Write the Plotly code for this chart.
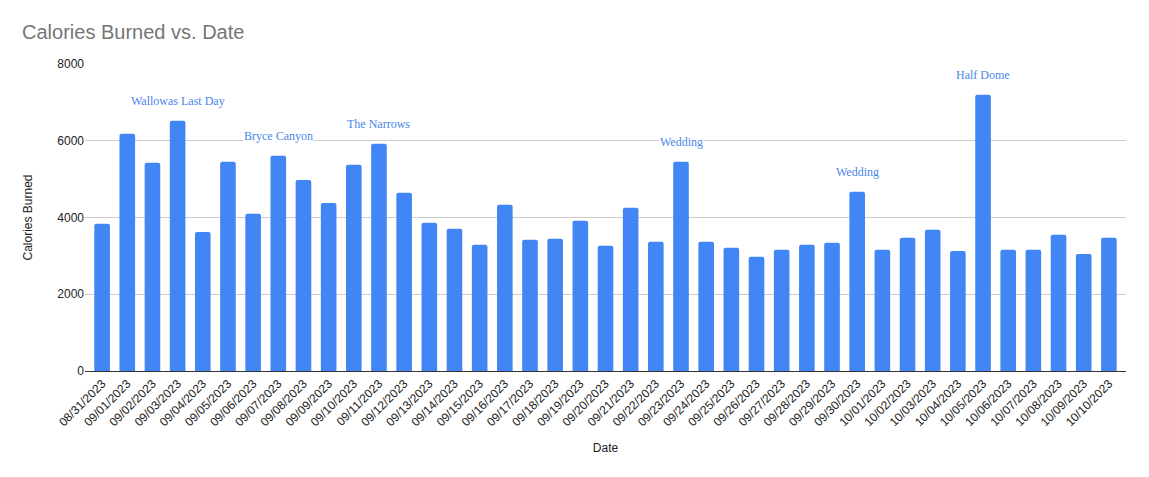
import plotly.graph_objects as go

dates = ["08/31/2023"] + [f"09/{d:02d}/2023" for d in range(1, 31)] + [f"10/{d:02d}/2023" for d in range(1, 11)]
calories = [3835, 6180, 5425, 6520, 3625, 5450, 4095, 5610, 4980, 4380,
            5375, 5920, 4645, 3860, 3705, 3287, 4330, 3417, 3443, 3913,
            3261, 4252, 3365, 5452, 3365, 3209, 2974, 3157, 3287, 3339,
            4670, 3157, 3470, 3678, 3130, 7200, 3157, 3157, 3548, 3052,
            3470]
note_dates = ["09/03/2023", "09/07/2023", "09/11/2023", "09/23/2023", "09/30/2023", "10/05/2023"]
note_texts = ["Wallowas Last Day", "Bryce Canyon", "The Narrows", "Wedding", "Wedding", "Half Dome"]
y_ticks = [0, 2000, 4000, 6000, 8000]

fig = go.Figure(go.Bar(x=dates, y=calories, marker_color="#4285f4", marker_line_width=0))

for d, t in zip(note_dates, note_texts):
    fig.add_annotation(x=d, y=calories[dates.index(d)], text=t, showarrow=False,
                       yanchor="middle", yshift=20, bgcolor="white", borderpad=0,
                       font=dict(family="Liberation Serif", size=12, color="#4a86e8"))

fig.update_layout(
    width=1133, height=461,
    margin=dict(l=77, r=15, t=56, b=98),
    paper_bgcolor="white", plot_bgcolor="white",
    bargap=0.38, barcornerradius=2,
    title=dict(text="Calories Burned vs. Date", x=0.0124, xanchor="left", y=0.948, yanchor="middle",
               font=dict(family="Arial", size=20, color="#757575")),
    font=dict(family="Arial", size=12, color="#222222"),
    showlegend=False,
)
fig.update_xaxes(
    title=dict(text="Date", font=dict(size=12, color="#222222"), standoff=15),
    tickangle=-45, range=[-0.68, 40.68], showgrid=False,
    showline=True, linecolor="#333333", linewidth=1, ticks="",
    tickfont=dict(size=12, color="#222222"),
)
fig.update_yaxes(
    title=dict(text="Calories Burned", font=dict(size=12, color="#222222"), standoff=22),
    range=[0, 8000], tickvals=y_ticks, ticktext=[str(v) for v in y_ticks],
    showgrid=True, gridcolor="#cccccc", gridwidth=1, zeroline=False,
    tickfont=dict(size=12, color="#222222"), ticks="", ticklen=0,
)

fig.write_html("out.html")
